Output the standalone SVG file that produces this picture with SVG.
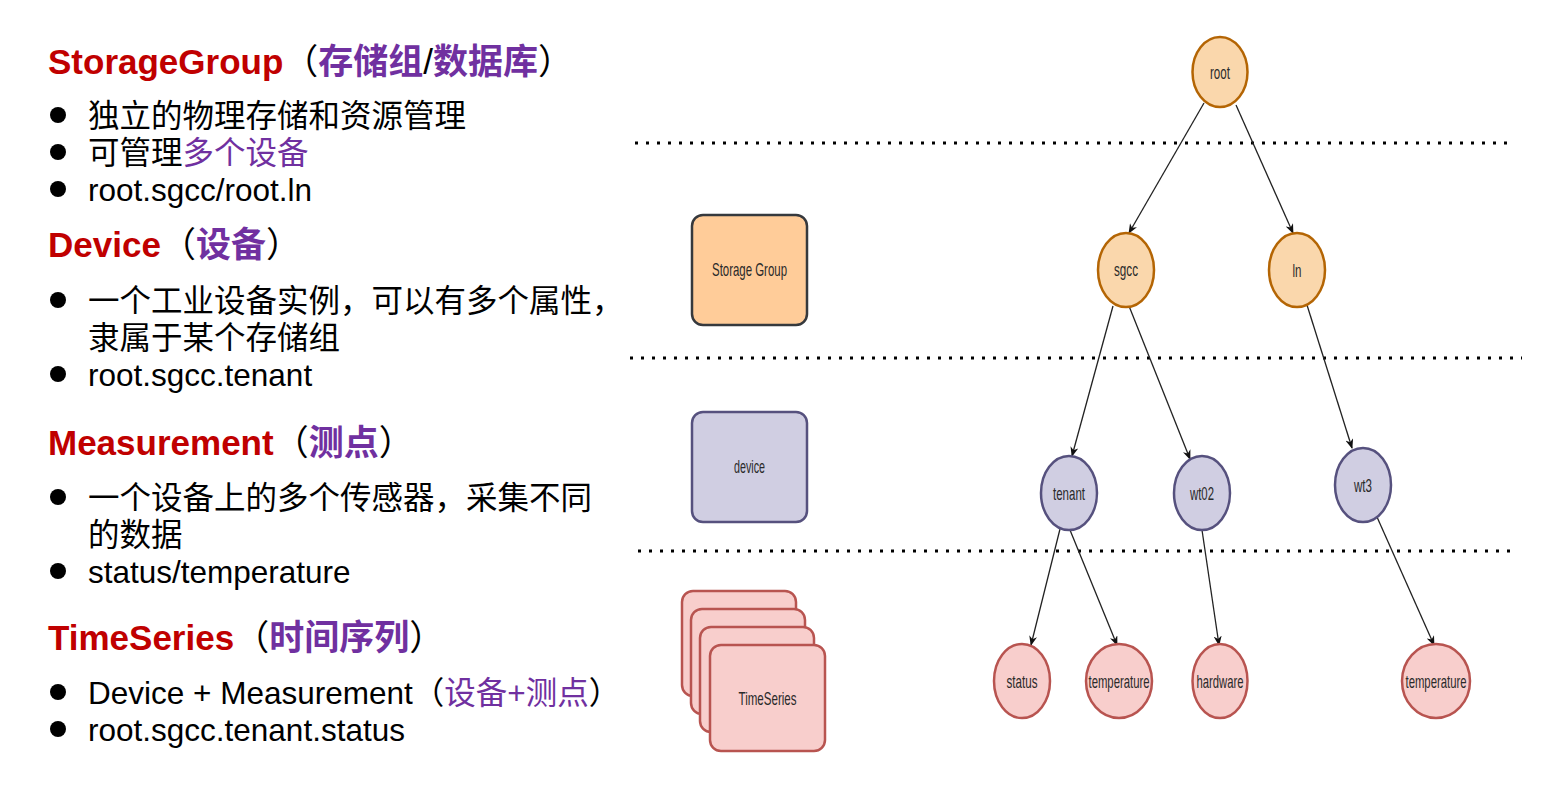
<svg xmlns="http://www.w3.org/2000/svg" width="1541" height="793" viewBox="0 0 1541 793">
<style>
.h{font-family:"Liberation Sans","Noto Sans CJK SC",sans-serif;font-size:35px;font-weight:bold;fill:#000}
.p{font-weight:normal}
.b{font-family:"Liberation Sans","Noto Sans CJK SC",sans-serif;font-size:31.5px;fill:#000}
.red{fill:#C00000}
.pur{fill:#7030A0}
.dot{fill:#000}
.sep{stroke:#000;stroke-width:3;stroke-dasharray:3 8;fill:none}
.lbl{font-family:"Liberation Sans",Arial,sans-serif;font-size:19px;fill:#2a2a2a;text-anchor:middle}
.org{fill:#FAD7AC;stroke:#B46504;stroke-width:2.5}
.prp{fill:#D0CEE2;stroke:#56517E;stroke-width:2.5}
.rd{fill:#F8CECC;stroke:#B85450;stroke-width:2.5}
.edge{stroke:#222;stroke-width:1.3;fill:none;marker-end:url(#arr)}
</style>
<defs>
<marker id="arr" viewBox="0 0 10 8" refX="9" refY="4" markerWidth="10" markerHeight="8" markerUnits="userSpaceOnUse" orient="auto">
<path d="M0,0 L10,4 L0,8 L3,4 z" fill="#111"/>
</marker>
</defs>
<rect width="1541" height="793" fill="#fff"/>

<g id="text-panel">
<text class="h" x="48" y="74"><tspan class="red">StorageGroup</tspan><tspan class="p">（</tspan><tspan class="pur">存储组</tspan><tspan class="p">/</tspan><tspan class="pur">数据库</tspan><tspan class="p">）</tspan></text>
<circle class="dot" cx="58" cy="115" r="8"/>
<text class="b" x="88" y="127">独立的物理存储和资源管理</text>
<circle class="dot" cx="58" cy="152" r="8"/>
<text class="b" x="88" y="164">可管理<tspan class="pur">多个设备</tspan></text>
<circle class="dot" cx="58" cy="189" r="8"/>
<text class="b" x="88" y="201">root.sgcc/root.ln</text>

<text class="h" x="48" y="257"><tspan class="red">Device</tspan><tspan class="p">（</tspan><tspan class="pur">设备</tspan><tspan class="p">）</tspan></text>
<circle class="dot" cx="58" cy="300" r="8"/>
<text class="b" x="88" y="312">一个工业设备实例，可以有多个属性，</text>
<text class="b" x="88" y="349">隶属于某个存储组</text>
<circle class="dot" cx="58" cy="374" r="8"/>
<text class="b" x="88" y="386">root.sgcc.tenant</text>

<text class="h" x="48" y="455"><tspan class="red">Measurement</tspan><tspan class="p">（</tspan><tspan class="pur">测点</tspan><tspan class="p">）</tspan></text>
<circle class="dot" cx="58" cy="497" r="8"/>
<text class="b" x="88" y="509">一个设备上的多个传感器，采集不同</text>
<text class="b" x="88" y="546">的数据</text>
<circle class="dot" cx="58" cy="571" r="8"/>
<text class="b" x="88" y="583">status/temperature</text>

<text class="h" x="48" y="650"><tspan class="red">TimeSeries</tspan><tspan class="p">（</tspan><tspan class="pur">时间序列</tspan><tspan class="p">）</tspan></text>
<circle class="dot" cx="58" cy="692" r="8"/>
<text class="b" x="88" y="704">Device + Measurement（<tspan class="pur">设备+测点</tspan>）</text>
<circle class="dot" cx="58" cy="729" r="8"/>
<text class="b" x="88" y="741">root.sgcc.tenant.status</text>
</g>

<g id="separators">
<line class="sep" x1="635" y1="143" x2="1515" y2="143"/>
<line class="sep" x1="630" y1="358" x2="1522" y2="358"/>
<line class="sep" x1="638" y1="551" x2="1518" y2="551"/>
</g>

<g id="legend-storage-group">
<rect x="692" y="215" width="115" height="110" rx="11" fill="#FFCC99" stroke="#36393D" stroke-width="2.5"/>
<text class="lbl" x="749.5" y="276" textLength="75" lengthAdjust="spacingAndGlyphs">Storage Group</text>
</g>
<g id="legend-device">
<rect x="692" y="412" width="115" height="110" rx="11" class="prp"/>
<text class="lbl" x="749.5" y="473" textLength="31" lengthAdjust="spacingAndGlyphs">device</text>
</g>
<g id="legend-timeseries">
<rect x="682" y="591" width="114" height="105" rx="11" class="rd"/>
<rect x="691" y="609" width="114" height="105" rx="11" class="rd"/>
<rect x="700" y="627" width="114" height="105" rx="11" class="rd"/>
<rect x="710" y="645" width="115" height="106" rx="11" class="rd"/>
<text class="lbl" x="767.5" y="705" textLength="58" lengthAdjust="spacingAndGlyphs">TimeSeries</text>
</g>

<g id="connectors">
<line class="edge" x1="1204" y1="103" x2="1129" y2="233"/>
<line class="edge" x1="1236" y1="105" x2="1293" y2="233"/>
<line class="edge" x1="1113" y1="306" x2="1072" y2="456"/>
<line class="edge" x1="1129" y1="306" x2="1190" y2="459"/>
<line class="edge" x1="1307" y1="305" x2="1352" y2="448"/>
<line class="edge" x1="1060" y1="529" x2="1031" y2="645"/>
<line class="edge" x1="1070" y1="530" x2="1117" y2="645"/>
<line class="edge" x1="1202" y1="530" x2="1219" y2="645"/>
<line class="edge" x1="1377" y1="517" x2="1434" y2="645"/>
</g>

<g id="node-root"><ellipse class="org" cx="1220" cy="72" rx="27.5" ry="35"/><text class="lbl" x="1220" y="79" textLength="20" lengthAdjust="spacingAndGlyphs">root</text></g>
<g id="node-sgcc"><ellipse class="org" cx="1126" cy="270" rx="28" ry="37"/><text class="lbl" x="1126" y="276" textLength="24" lengthAdjust="spacingAndGlyphs">sgcc</text></g>
<g id="node-ln"><ellipse class="org" cx="1297" cy="270" rx="28" ry="37"/><text class="lbl" x="1297" y="277" textLength="9" lengthAdjust="spacingAndGlyphs">ln</text></g>
<g id="node-tenant"><ellipse class="prp" cx="1069" cy="493" rx="28" ry="37"/><text class="lbl" x="1069" y="500" textLength="32" lengthAdjust="spacingAndGlyphs">tenant</text></g>
<g id="node-wt02"><ellipse class="prp" cx="1202" cy="493" rx="28" ry="37"/><text class="lbl" x="1202" y="500" textLength="24" lengthAdjust="spacingAndGlyphs">wt02</text></g>
<g id="node-wt3"><ellipse class="prp" cx="1363" cy="485" rx="28" ry="37"/><text class="lbl" x="1363" y="492" textLength="18" lengthAdjust="spacingAndGlyphs">wt3</text></g>
<g id="node-status"><ellipse class="rd" cx="1022" cy="681" rx="28" ry="37"/><text class="lbl" x="1022" y="688" textLength="31" lengthAdjust="spacingAndGlyphs">status</text></g>
<g id="node-temperature"><ellipse class="rd" cx="1119" cy="681" rx="33" ry="37"/><text class="lbl" x="1119" y="688" textLength="61" lengthAdjust="spacingAndGlyphs">temperature</text></g>
<g id="node-hardware"><ellipse class="rd" cx="1220" cy="681" rx="27.5" ry="37"/><text class="lbl" x="1220" y="688" textLength="47" lengthAdjust="spacingAndGlyphs">hardware</text></g>
<g id="node-temperature2"><ellipse class="rd" cx="1436" cy="681" rx="34" ry="37"/><text class="lbl" x="1436" y="688" textLength="61" lengthAdjust="spacingAndGlyphs">temperature</text></g>
</svg>
